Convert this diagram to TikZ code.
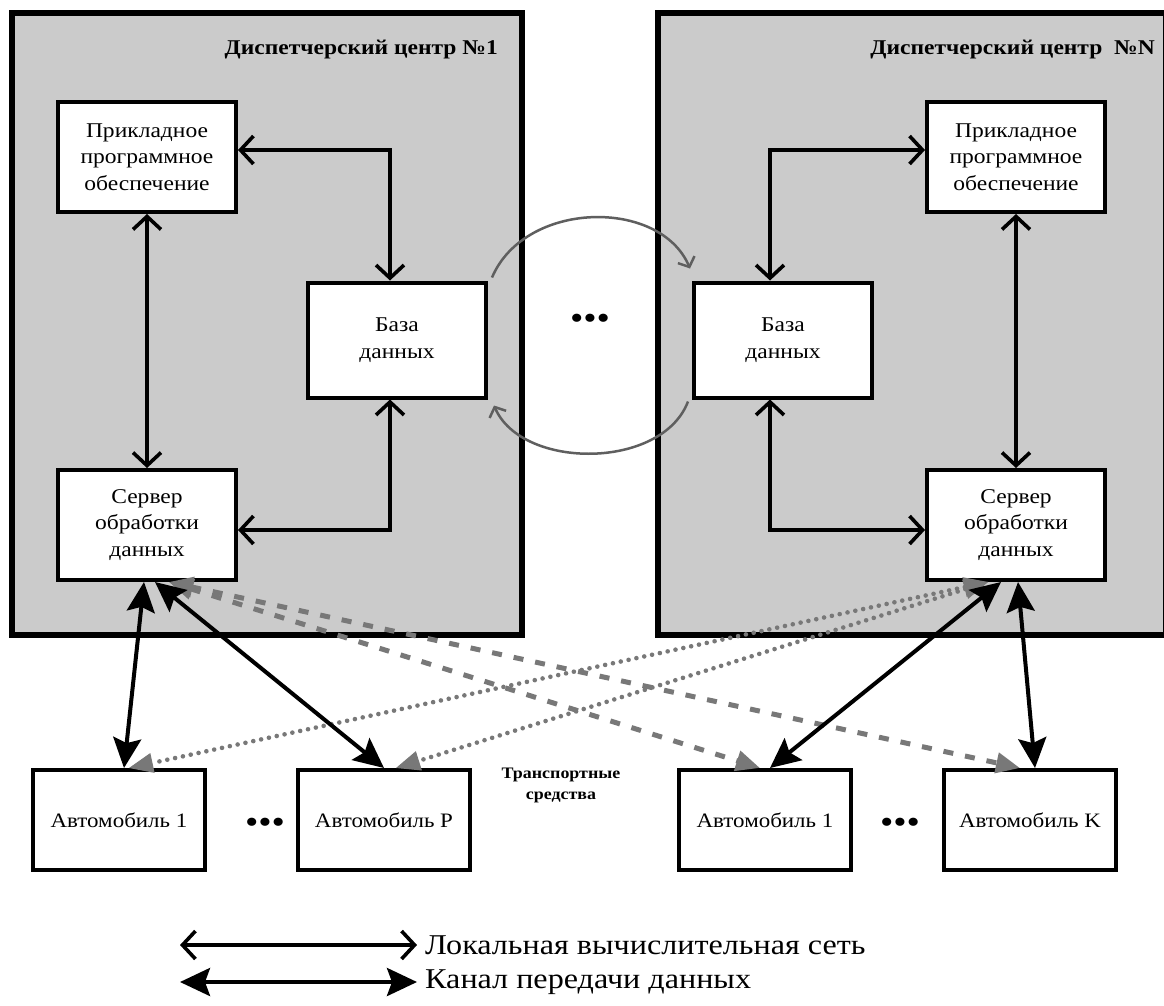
\documentclass[tikz,border=0pt]{standalone}
\usepackage{fontspec}
\setmainfont[FakeStretch=1.12]{Liberation Serif}
\usetikzlibrary{arrows.meta}
\definecolor{panel}{RGB}{203,203,203}
\definecolor{lgray}{RGB}{120,120,120}
\definecolor{cgray}{RGB}{95,95,95}
\begin{document}
\begin{tikzpicture}[x=1pt,y=-1pt,
  dcpanel/.style={draw, line width=6pt, fill=panel, inner sep=0pt},
  box/.style={draw, line width=4pt, fill=white, minimum width=178pt, minimum height=110pt,
    align=center, inner sep=0pt, font=\fontsize{21}{26.5}\selectfont},
  carbox/.style={draw, line width=4pt, fill=white, minimum width=172pt, minimum height=100pt,
    inner sep=0pt, font=\fontsize{20.5}{24}\selectfont},
  title/.style={font=\bfseries\fontsize{21}{24}\selectfont, inner sep=0pt},
  lan/.style={line width=3.6pt, {Straight Barb[length=13pt,width=28pt]}-{Straight Barb[length=13pt,width=28pt]}},
  data/.style={line width=4pt, {Stealth[length=30pt,width=28pt,inset=5pt]}-{Stealth[length=30pt,width=28pt,inset=5pt]}},
  gdash/.style={draw=lgray, line width=5pt, dash pattern=on 10pt off 12pt,
    {Triangle[length=24pt,width=20pt,fill=lgray]}-{Triangle[length=24pt,width=20pt,fill=lgray]}},
  gdot/.style={draw=lgray, line width=4.6pt, dash pattern=on 0pt off 8pt, line cap=round,
    {Triangle[length=24pt,width=20pt,fill=lgray,line cap=butt,line width=1pt]}-{Triangle[length=24pt,width=20pt,fill=lgray,line cap=butt,line width=1pt]}},
  curv/.style={draw=cgray, line width=2.5pt, -{Straight Barb[length=8pt,width=18pt]}},
  dots/.style={font=\fontsize{34}{34}\selectfont, inner sep=0pt}
]
\useasboundingbox (0,0) rectangle (1164,1005);
\fill[white] (0,0) rectangle (1164,1005);

% panels
\node[dcpanel, minimum width=510pt, minimum height=622pt] (dc1) at (267,324) {};
\node[dcpanel, minimum width=508pt, minimum height=622pt] (dcN) at (912,324) {};
\node[title, anchor=east] (t1) at (498,50) {Диспетчерский центр №1};
\node[title, anchor=east] (tN) at (1155,50) {Диспетчерский центр \ №N};

% inner boxes
\node[box] (app1) at (147,157) {Прикладное\\программное\\обеспечение};
\node[box, minimum height=115pt] (base1) at (397,340) {База\\данных};
\node[box] (srv1) at (147,525) {Сервер\\обработки\\данных};
\node[box] (app2) at (1016,157) {Прикладное\\программное\\обеспечение};
\node[box, minimum height=115pt] (base2) at (783,340) {База\\данных};
\node[box] (srv2) at (1016,525) {Сервер\\обработки\\данных};

% cars
\node[carbox] (car1) at (119,820) {Автомобиль 1};
\node[carbox] (carP) at (384,820) {Автомобиль P};
\node[carbox] (carR) at (765,820) {Автомобиль 1};
\node[carbox] (carK) at (1030,820) {Автомобиль K};
\node[dots] (d1) at (265,826) {•••};
\node[dots] (d2) at (900,826) {•••};
\node[dots] (d3) at (590,322) {•••};
\node[font=\bfseries\fontsize{16}{21}\selectfont, align=center, inner sep=0pt] (ts) at (561,785) {Транспортные\\средства};

% LAN links
\draw[lan] ([yshift=7pt]app1.east) -| ([xshift=-7pt]base1.north);
\draw[lan] ([xshift=-7pt]base1.south) |- ([yshift=-5pt]srv1.east);
\draw[lan] (app1.south) -- (srv1.north);
\draw[lan] ([xshift=-13pt]base2.north) |- ([yshift=7pt]app2.west);
\draw[lan] ([xshift=-13pt]base2.south) |- ([yshift=-5pt]srv2.west);
\draw[lan] (app2.south) -- (srv2.north);

% replication curves
\draw[curv] ([shift={(4pt,3pt)}]base1.north east) .. controls (525,200) and (660,198) .. ([shift={(-2pt,12pt)}]base2.north west);
\draw[curv] ([shift={(-4pt,-2pt)}]base2.south west) .. controls (662,470) and (522,470) .. ([shift={(6pt,-6pt)}]base1.south east);

% gray cross links
\draw[gdash] ([xshift=22pt]srv1.south) -- ([xshift=-5pt]carR.north);
\draw[gdash] ([xshift=22pt]srv1.south) -- ([xshift=-10pt]carK.north);
\draw[gdot] ([xshift=-28pt]srv2.south) -- ([xshift=10pt]car1.north);
\draw[gdot] ([xshift=-28pt]srv2.south) -- ([xshift=12pt]carP.north);

% data channels
\draw[data] ([xshift=-3pt]srv1.south) -- ([xshift=5pt]car1.north);
\draw[data] ([xshift=8pt]srv1.south) -- (carP.north);
\draw[data] ([xshift=-15pt]srv2.south) -- ([xshift=5pt]carR.north);
\draw[data] ([xshift=2pt]srv2.south) -- ([xshift=5pt]carK.north);

% legend
\coordinate (l1a) at (180,945);
\coordinate (l1b) at (417,945);
\coordinate (l2a) at (180,982);
\coordinate (l2b) at (417,982);
\draw[lan] (l1a) -- (l1b);
\draw[data] (l2a) -- (l2b);
\node[anchor=west, font=\fontsize{28.7}{30}\selectfont, inner sep=0pt] (lt1) at (425,945) {Локальная вычислительная сеть};
\node[anchor=west, font=\fontsize{28.7}{30}\selectfont, inner sep=0pt] (lt2) at (425,982) {Канал передачи данных};
\end{tikzpicture}
\end{document}
